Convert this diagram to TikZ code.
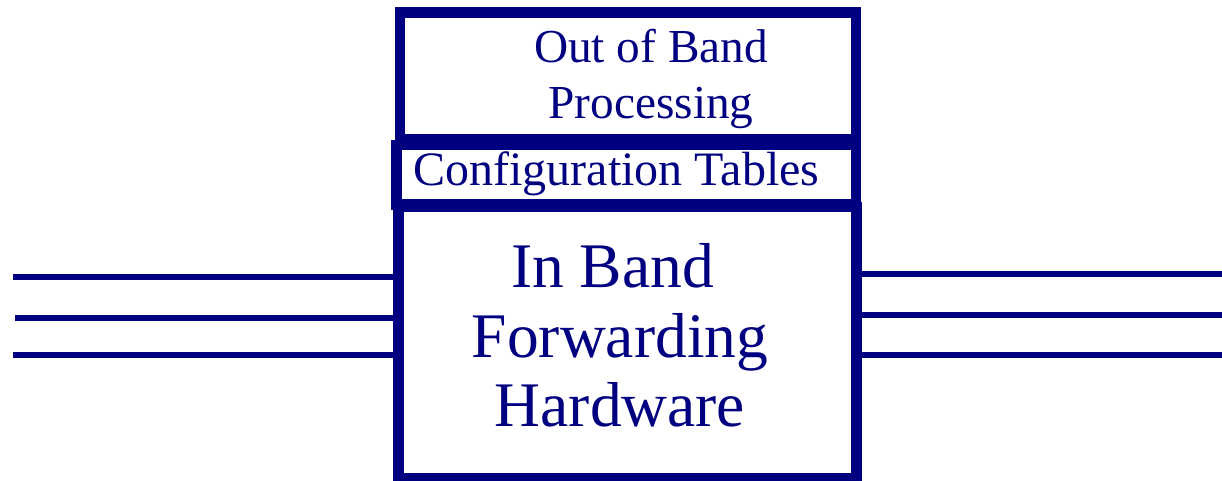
\documentclass[tikz,border=0pt]{standalone}
\usepackage{fontspec}
\setmainfont{Liberation Serif}
\definecolor{navy}{RGB}{0,0,128}
\begin{document}
\begin{tikzpicture}[x=1pt,y=-1pt,
  block/.style={draw=navy,line width=10.5pt,rectangle,inner sep=0pt,outer sep=0pt},
  wire/.style={draw=navy,line width=6pt},
  label/.style={text=navy,inner sep=0pt,anchor=base,align=center},
]
\useasboundingbox (0,0) rectangle (1222,480);

% stacked blocks
\node[block,minimum width=456pt,minimum height=126.5pt] (oob) at (628,75.75) {};
\node[block,minimum width=459.5pt,minimum height=59.5pt] (cfg) at (626.25,174.75) {};
\node[block,minimum width=458pt,minimum height=271pt] (hw) at (627.5,342.5) {};

% block texts
\node[label,font=\fontsize{47.3pt}{56pt}\selectfont] (t1) at (651,62) {Out of Band};
\node[label,font=\fontsize{47.3pt}{56pt}\selectfont] (t2) at (651,118) {Processing};
\node[label,font=\fontsize{48pt}{56pt}\selectfont] (t3) at (616.5,185) {Configuration Tables};
\node[label,font=\fontsize{63.5pt}{70pt}\selectfont] (t4) at (612.5,287) {In Band};
\node[label,font=\fontsize{63.5pt}{70pt}\selectfont] (t5) at (620,357) {Forwarding};
\node[label,font=\fontsize{63.5pt}{70pt}\selectfont] (t6) at (620,426) {Hardware};

% free ends of the ports
\coordinate (l1) at (13,277);
\coordinate (l2) at (15,318);
\coordinate (l3) at (13,355);
\coordinate (r1) at (1222,274);
\coordinate (r2) at (1222,315);
\coordinate (r3) at (1222,355);

% input ports
\draw[wire] (l1) -- (l1 -| hw.west);
\draw[wire] (l2) -- (l2 -| hw.west);
\draw[wire] (l3) -- (l3 -| hw.west);
% output ports
\draw[wire] (r1 -| hw.east) -- (r1);
\draw[wire] (r2 -| hw.east) -- (r2);
\draw[wire] (r3 -| hw.east) -- (r3);
\end{tikzpicture}
\end{document}
